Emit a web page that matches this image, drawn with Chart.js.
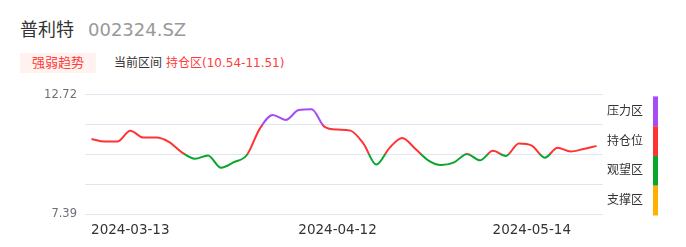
<!DOCTYPE html>
<html><head><meta charset="utf-8">
<script src="https://cdn.jsdelivr.net/npm/chart.js@4"></script>
<style>
html,body{margin:0;padding:0;background:#fff;}
body{width:686px;height:247px;position:relative;overflow:hidden;font-family:"DejaVu Sans","Noto Sans CJK SC",sans-serif;}
#title{position:absolute;left:20px;top:17px;line-height:26px;font-size:18px;white-space:nowrap;}
#title .name{color:#333;}
#title .code{color:#999;margin-left:14px;}
#tag{position:absolute;left:20px;top:53px;width:76px;height:20px;line-height:20px;background:#fff2ef;color:#ff3b3b;font-size:13px;text-align:center;}
#range{position:absolute;left:114px;top:53px;line-height:20px;font-size:12px;color:#333;white-space:nowrap;}
#range .v{color:#ff3b3b;margin-left:4px;}
#wrap{position:absolute;left:0;top:80px;width:686px;height:167px;}
</style></head><body>
<div id="title"><span class="name">普利特</span><span class="code">002324.SZ</span></div>
<div id="tag">强弱趋势</div>
<div id="range">当前区间<span class="v">持仓区(10.54-11.51)</span></div>
<div id="wrap"><canvas id="c"></canvas></div>
<script>
const dates = ['2024-03-08','2024-03-11','2024-03-12','2024-03-13','2024-03-14','2024-03-15','2024-03-18','2024-03-20','2024-03-22','2024-03-25',
  '2024-03-27','2024-03-29','2024-04-01','2024-04-02','2024-04-03','2024-04-08','2024-04-09','2024-04-10','2024-04-11','2024-04-12',
  '2024-04-15','2024-04-17','2024-04-19','2024-04-22','2024-04-24','2024-04-26','2024-04-29','2024-04-30','2024-05-06','2024-05-07',
  '2024-05-08','2024-05-09','2024-05-10','2024-05-13','2024-05-14','2024-05-15','2024-05-16','2024-05-17','2024-05-20','2024-05-21'];
const strength = [10.75,10.63,10.63,11.12,10.81,10.81,10.61,10.14,9.86,10.01,
  9.46,9.71,10.03,11.21,11.82,11.60,12.04,12.08,11.29,11.17,
  11.12,10.54,9.60,10.34,10.79,10.31,9.79,9.58,9.70,10.08,
  9.79,10.22,9.99,10.54,10.45,9.91,10.35,10.19,10.30,10.44];
const tickDates = ['2024-03-13','2024-04-12','2024-05-14'];
const zoneBounds = [12.72, 11.3875, 10.055, 8.7225, 7.39];
const zoneNames = ['压力区','持仓位','观望区','支撑区'];
const zoneColors = ['#a64cf5','#ff3333','#0aa52b','#ffb000'];
const yTickLabels = ['7.39','12.72'];

function clamp01(v){return Math.max(0,Math.min(1,v));}
function zoneGradient(ctx){
  const chart = ctx.chart, area = chart.chartArea;
  if(!area) return zoneColors[1];
  const y = chart.scales.y, top = area.top, h = area.bottom - area.top;
  const g = chart.ctx.createLinearGradient(0, top, 0, area.bottom);
  for(let i=0;i<zoneColors.length;i++){
    g.addColorStop(clamp01((y.getPixelForValue(zoneBounds[i])-top)/h), zoneColors[i]);
    g.addColorStop(clamp01((y.getPixelForValue(zoneBounds[i+1])-top)/h), zoneColors[i]);
  }
  return g;
}

const zonePlugin = {
  id:'zones',
  afterDraw(chart){
    const {ctx, chartArea, scales:{y}} = chart;
    const barX = chartArea.right + 50, textX = chartArea.right + 4;
    ctx.save();
    ctx.font = '12px "DejaVu Sans","Noto Sans CJK SC",sans-serif';
    ctx.textAlign = 'left'; ctx.textBaseline = 'middle';
    for(let i=0;i<zoneNames.length;i++){
      const t = y.getPixelForValue(zoneBounds[i]) + 1.5;
      const b = y.getPixelForValue(zoneBounds[i+1]) + 1.5;
      ctx.fillStyle = zoneColors[i];
      ctx.fillRect(barX, t, 5, b - t);
      ctx.fillStyle = '#333';
      ctx.fillText(zoneNames[i], textX, (t+b)/2 + 0.5);
    }
    ctx.restore();
  }
};

new Chart(document.getElementById('c'), {
  type:'line',
  data:{labels:dates, datasets:[{data:strength, borderColor:zoneGradient, borderWidth:2, pointRadius:0, fill:false, cubicInterpolationMode:'monotone'}]},
  options:{
    responsive:true, maintainAspectRatio:false, animation:false,
    layout:{padding:{left:0,right:83,top:14,bottom:0}},
    plugins:{legend:{display:false}, tooltip:{enabled:false}},
    scales:{
      x:{offset:true, grid:{display:false}, border:{display:false},
        afterFit(s){ s.height = 33; },
        ticks:{autoSkip:false, maxRotation:0, padding:0, color:'#333', font:{family:'"DejaVu Sans"', size:13.5},
          callback(v){ const l = this.getLabelForValue(v); return tickDates.includes(l) ? l : ''; }}},
      y:{min:zoneBounds[4], max:zoneBounds[0],
        afterFit(s){ s.width = 85; },
        afterBuildTicks(s){ s.ticks = zoneBounds.slice().reverse().map(v=>({value:v})); },
        grid:{color:'#e0e6f1', drawTicks:false}, border:{display:false},
        ticks:{padding:8, color:'#6e7079', font:{family:'"DejaVu Sans"', size:11.5},
          callback(v){ const s = v.toFixed(2); return yTickLabels.includes(s) ? s : ''; }}}
    }
  },
  plugins:[zonePlugin]
});
</script>
</body></html>
